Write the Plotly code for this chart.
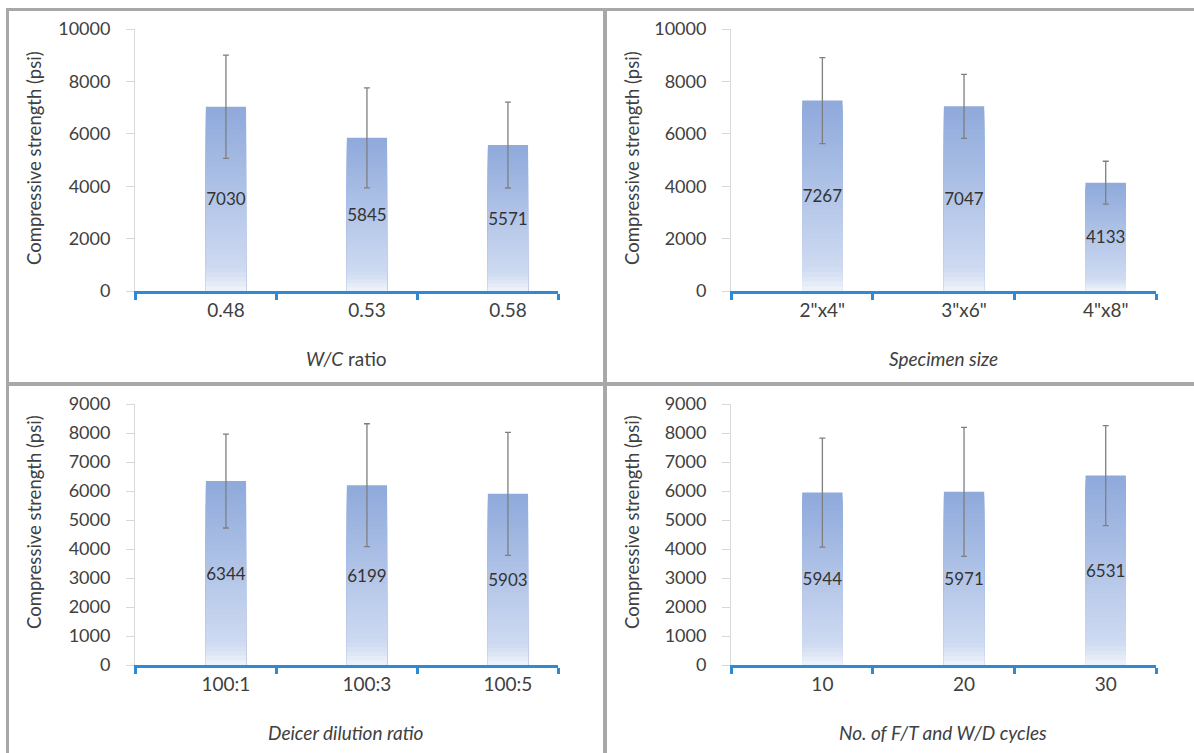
import plotly.graph_objects as go

W, H = 1194, 753

# ---------------- data ----------------
wc_cats = ["0.48", "0.53", "0.58"]
wc_vals = [7030, 5845, 5571]
wc_err = [1970, 1910, 1640]

size_cats = ['2"x4"', '3"x6"', '4"x8"']
size_vals = [7267, 7047, 4133]
size_err = [1640, 1220, 820]

deicer_cats = ["100:1", "100:3", "100:5"]
deicer_vals = [6344, 6199, 5903]
deicer_err = [1620, 2120, 2120]

cycle_cats = ["10", "20", "30"]
cycle_vals = [5944, 5971, 6531]
cycle_err = [1880, 2225, 1725]

y_title = "Compressive strength (psi)"
x_titles = ["<i>W/C</i> ratio", "<i>Specimen size</i>",
            "<i>Deicer dilution ratio</i>", "<i>No. of F/T and W/D cycles</i>"]

FONT = "Lato, Carlito, 'Open Sans', sans-serif"
TXT = "#404040"
BLUE_AXIS = "#2F8AD6"
ERR = "#7F7F7F"

panels = [
    dict(cats=wc_cats, vals=wc_vals, err=wc_err, px=(135, 558), py=(291, 29), ymax=10000, dtick=2000,
         ytitle=(34, 158), xtitle=(346, 358)),
    dict(cats=size_cats, vals=size_vals, err=size_err, px=(731, 1156), py=(291, 29), ymax=10000, dtick=2000,
         ytitle=(632, 158), xtitle=(943, 358)),
    dict(cats=deicer_cats, vals=deicer_vals, err=deicer_err, px=(135, 558), py=(665, 404), ymax=9000, dtick=1000,
         ytitle=(34, 522), xtitle=(346, 732)),
    dict(cats=cycle_cats, vals=cycle_vals, err=cycle_err, px=(731, 1156), py=(665, 404), ymax=9000, dtick=1000,
         ytitle=(632, 522), xtitle=(943, 732)),
]

OFFSET = 0.645
BAR_W = 0.285
NSEG = 40

def grad_color(t):
    stops = [(0.0, (240, 244, 251)), (0.12, (206, 218, 241)), (1.0, (142, 169, 219))]
    for (t0, c0), (t1, c1) in zip(stops[:-1], stops[1:]):
        if t <= t1:
            f = (t - t0) / (t1 - t0)
            return "rgb(%d,%d,%d)" % tuple(round(a + (b - a) * f) for a, b in zip(c0, c1))
    return "rgb(%d,%d,%d)" % stops[-1][1]

fig = go.Figure()
layout = dict(
    width=W, height=H, margin=dict(l=0, r=0, t=0, b=0, pad=0, autoexpand=False),
    paper_bgcolor="white", plot_bgcolor="white",
    barmode="overlay", showlegend=False,
    font=dict(family=FONT, color=TXT),
)
annotations = []

for i, p in enumerate(panels):
    n = i + 1
    xa = "x" if n == 1 else f"x{n}"
    ya = "y" if n == 1 else f"y{n}"
    xpos = list(range(len(p["cats"])))

    for k in range(NSEG):
        frac = 1 - k / NSEG
        fig.add_trace(go.Bar(
            x=xpos, y=[v * frac for v in p["vals"]],
            width=BAR_W, marker=dict(color=grad_color(frac - 0.5 / NSEG), line=dict(width=0)),
            hoverinfo="skip", xaxis=xa, yaxis=ya,
        ))
    fig.add_trace(go.Bar(
        x=xpos, y=p["vals"], width=BAR_W,
        marker=dict(color="rgba(0,0,0,0)", line=dict(width=0)),
        text=[str(v) for v in p["vals"]], textposition="inside", insidetextanchor="middle",
        constraintext="none", textangle=0,
        textfont=dict(family=FONT, size=17, color="#333333"),
        error_y=dict(type="data", array=p["err"], visible=True, color=ERR, thickness=1.3, width=3),
        xaxis=xa, yaxis=ya,
    ))

    x0, x1 = p["px"]
    yb, yt = p["py"]
    r0 = -OFFSET
    layout[f"xaxis{'' if n == 1 else n}"] = dict(
        domain=[x0 / W, x1 / W], anchor=ya, automargin=False,
        range=[r0, r0 + len(p["cats"])],
        tickmode="array", tickvals=xpos, ticktext=p["cats"], ticks="",
        tickfont=dict(size=19, color=TXT, family=FONT),
        showline=True, linecolor=BLUE_AXIS, linewidth=2.5,
        showgrid=False, zeroline=False, fixedrange=True,
        minor=dict(tickmode="linear", tick0=r0, dtick=1, ticks="outside",
                   ticklen=6, tickwidth=2.5, tickcolor=BLUE_AXIS, showgrid=False),
    )
    layout[f"yaxis{'' if n == 1 else n}"] = dict(
        domain=[1 - yb / H, 1 - yt / H], anchor=xa, automargin=False,
        range=[0, p["ymax"]], dtick=p["dtick"], tick0=0, tickformat="d",
        ticks="outside", ticklen=8, tickcolor="#D9D9D9", tickwidth=1,
        ticklabelstandoff=12,
        tickfont=dict(size=18, color=TXT, family=FONT),
        showline=True, linecolor="#D9D9D9", linewidth=1,
        showgrid=False, zeroline=False, fixedrange=True,
    )
    annotations.append(dict(
        text=y_title, textangle=-90, x=p["ytitle"][0] / W, y=1 - p["ytitle"][1] / H,
        xref="paper", yref="paper", showarrow=False, xanchor="center", yanchor="middle",
        font=dict(size=18.5, color=TXT, family=FONT),
    ))
    annotations.append(dict(
        text=x_titles[i], x=p["xtitle"][0] / W, y=1 - p["xtitle"][1] / H,
        xref="paper", yref="paper", showarrow=False, xanchor="center", yanchor="middle",
        font=dict(size=19, color=TXT, family=FONT),
    ))

BORDER = "#A8A8A8"
shapes = [
    dict(type="line", xref="paper", yref="paper", x0=7.5 / W, x1=7.5 / W, y0=1 - 9.5 / H, y1=0,
         line=dict(color=BORDER, width=3)),
    dict(type="line", xref="paper", yref="paper", x0=6 / W, x1=1, y0=1 - 9.5 / H, y1=1 - 9.5 / H,
         line=dict(color=BORDER, width=3)),
    dict(type="line", xref="paper", yref="paper", x0=605 / W, x1=605 / W, y0=1 - 9.5 / H, y1=0,
         line=dict(color=BORDER, width=4)),
    dict(type="line", xref="paper", yref="paper", x0=6 / W, x1=1, y0=1 - 384 / H, y1=1 - 384 / H,
         line=dict(color=BORDER, width=4)),
]

layout["annotations"] = annotations
layout["shapes"] = shapes
fig.update_layout(**layout)

post = (
    "var gd=document.getElementById('{plot_id}');"
    "document.documentElement.style.margin='0';document.body.style.margin='0';"
    "document.documentElement.style.overflow='hidden';document.body.style.overflow='hidden';"
    "gd.style.position='fixed';gd.style.left='0px';gd.style.top='0px';"
)
fig.write_html("out.html", config={"displayModeBar": False}, post_script=post)
